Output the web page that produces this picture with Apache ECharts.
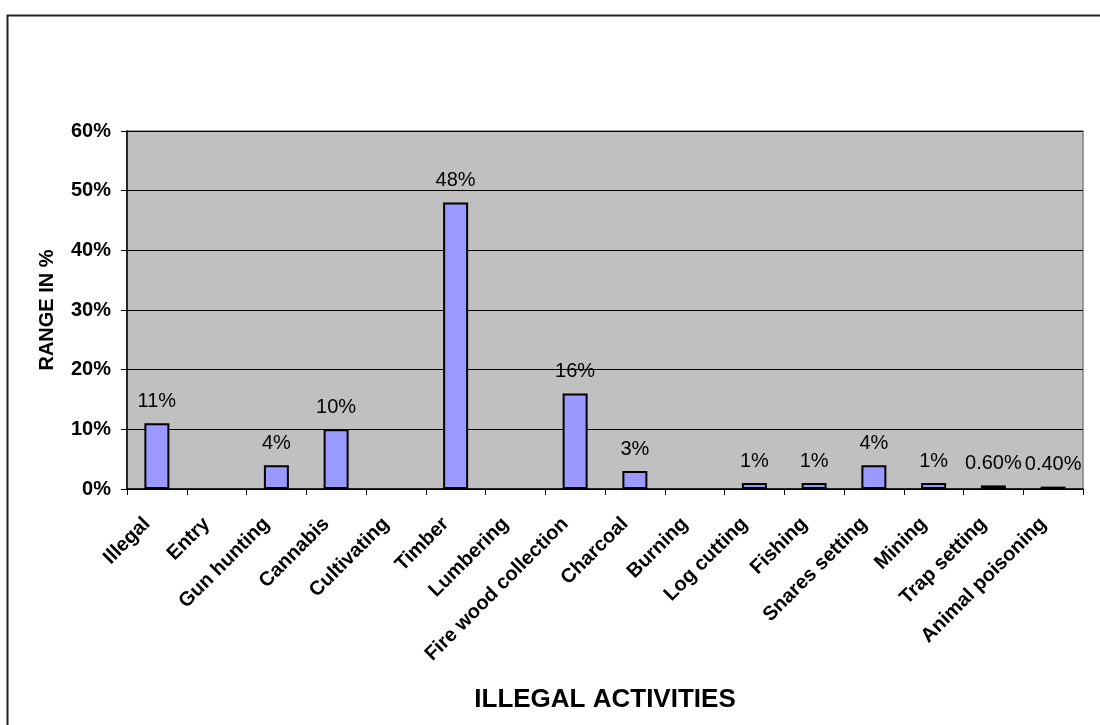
<!DOCTYPE html>
<html><head><meta charset="utf-8">
<script src="https://cdn.jsdelivr.net/npm/echarts@6/dist/echarts.min.js"></script>
<style>html,body{margin:0;padding:0;background:#fff}#c{width:1100px;height:725px}</style>
</head><body><div id="c"></div>
<script>
const categories = ['Illegal','Entry','Gun hunting','Cannabis','Cultivating','Timber','Lumbering','Fire wood collection','Charcoal','Burning','Log cutting','Fishing','Snares setting','Mining','Trap setting','Animal poisoning'];
const values = [11, null, 4, 10, null, 48, null, 16, 3, null, 1, 1, 4, 1, 0.6, 0.4];
const yTicks = [0, 10, 20, 30, 40, 50, 60];

const chart = echarts.init(document.getElementById('c'));
chart.setOption({
  animation: false,
  textStyle: {fontFamily: 'Liberation Sans, Arial, sans-serif'},
  graphic: [{type:'rect', shape:{x:7.5,y:15.5,width:1200,height:800}, style:{fill:'none',stroke:'#222',lineWidth:2}, silent:true, z:-10}],
  grid: {left:127, top:131, right:17, bottom:236, show:true, backgroundColor:'#C0C0C0', borderColor:'#808080', borderWidth:1.5},
  xAxis: {
    type:'category', data:categories,
    axisLine:{lineStyle:{color:'#000',width:1.5}},
    axisTick:{show:true, alignWithLabel:false, length:6, lineStyle:{color:'#000',width:1}},
    axisLabel:{rotate:45, interval:0, color:'#000', fontWeight:'bold', fontSize:20, margin:22, padding:[0,14,0,0]},
    name:'ILLEGAL ACTIVITIES', nameLocation:'middle', nameGap:198,
    nameTextStyle:{fontWeight:'bold', fontSize:26, color:'#000'}
  },
  yAxis: {
    type:'value', min:0, max:60, interval:10,
    axisLine:{show:true, lineStyle:{color:'#000',width:1.5}},
    axisTick:{show:true, length:6, lineStyle:{color:'#000'}},
    splitLine:{lineStyle:{color:'#000',width:1}},
    axisLabel:{formatter: v => yTicks.includes(v) ? v + '%' : '', color:'#000', fontWeight:'bold', fontSize:20, margin:16},
    name:'RANGE IN %', nameLocation:'middle', nameGap:70,
    nameTextStyle:{fontWeight:'bold', fontSize:20, color:'#000'}
  },
  series: [{
    type:'bar', data:values, barWidth:25,
    itemStyle:{color:'#9999FF', borderColor:'#000', borderWidth:2},
    label:{show:true, position:'top', distance:12, color:'#000', fontSize:20,
      formatter: p => p.value == null ? '' : (p.value < 1 ? p.value.toFixed(2) + '%' : p.value + '%')}
  }]
});
</script></body></html>
